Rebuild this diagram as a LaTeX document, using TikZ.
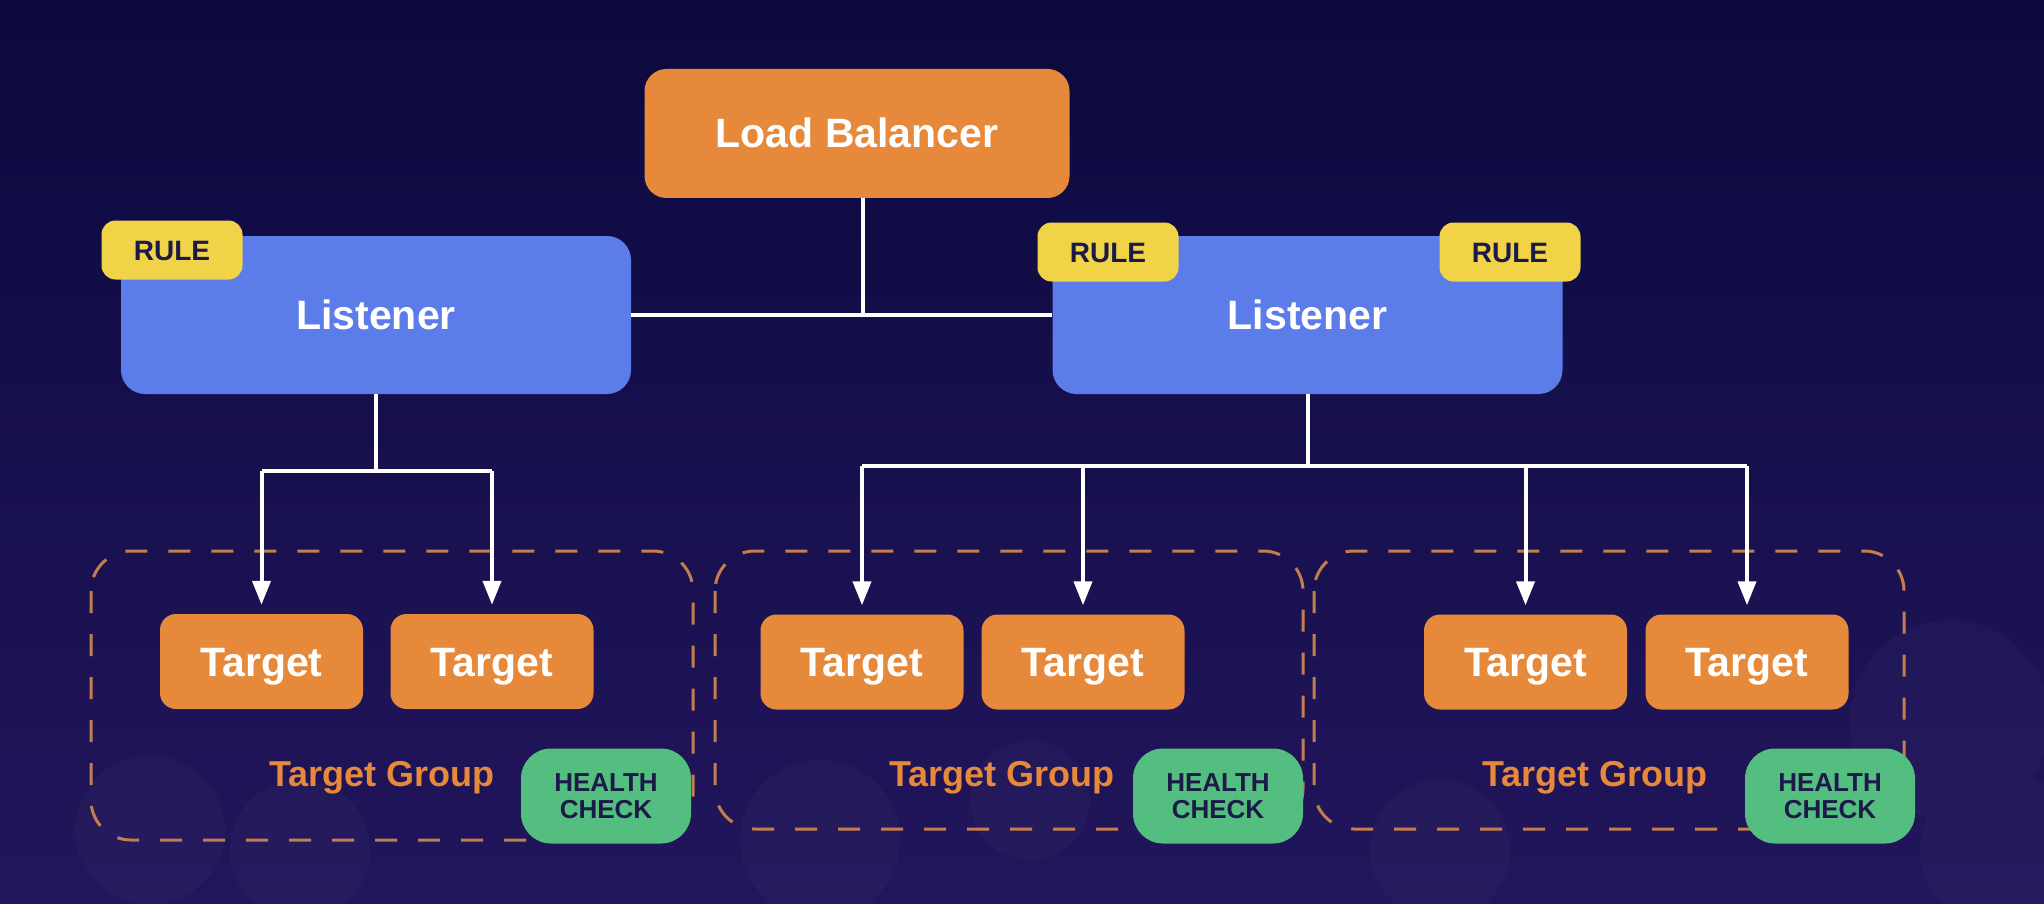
\documentclass[tikz,border=0pt]{standalone}
\usepackage{fontspec}
\setmainfont{Liberation Sans}
\usetikzlibrary{arrows.meta,positioning}
\definecolor{bgtop}{RGB}{11,9,62}
\definecolor{bgbot}{RGB}{34,22,92}
\definecolor{lborange}{RGB}{231,137,58}
\definecolor{lsblue}{RGB}{92,124,234}
\definecolor{ruleyellow}{RGB}{240,211,70}
\definecolor{hcgreen}{RGB}{84,190,128}
\definecolor{inkdark}{RGB}{28,26,72}
\definecolor{dashorange}{RGB}{196,126,78}
\begin{document}
\begin{tikzpicture}[x=1pt, y=-1pt,
	every node/.style={rectangle, align=center, font=\fontsize{41}{46}\selectfont\bfseries, text=white, text height=29pt, text depth=0pt},
	lbbox/.style={fill=lborange, minimum width=425pt, minimum height=129pt, rounded corners=22pt},
	listener/.style={fill=lsblue, minimum width=510pt, minimum height=158pt, rounded corners=24pt},
	rulebox/.style={fill=ruleyellow, minimum width=141pt, minimum height=59pt, rounded corners=14pt, text=inkdark, text height=20pt, font=\fontsize{28}{30}\selectfont\bfseries},
	target/.style={fill=lborange, minimum width=203pt, minimum height=95pt, rounded corners=16pt},
	health/.style={fill=hcgreen, minimum width=170pt, minimum height=95pt, rounded corners=30pt, text=inkdark, text height=, text depth=, font=\fontsize{26}{27}\selectfont\bfseries},
	grouplabel/.style={text=lborange, anchor=base, inner sep=0pt, text height=, text depth=, font=\fontsize{36}{40}\selectfont\bfseries},
	group/.style={draw=dashorange, line width=3pt, dash pattern=on 22pt off 21pt, rounded corners=40pt},
	link/.style={draw=white, line width=4pt},
	arrow/.style={link, -{Triangle[width=18pt,length=24pt]}, shorten >=9pt}]
	\useasboundingbox (0,0) rectangle (2044,904);
	% background
	\shade[top color=bgtop, bottom color=bgbot] (0,0) rectangle (2044,904);
	\fill[white, opacity=0.022] (150,830) circle (75) (300,850) circle (70) (820,840) circle (80) (1030,800) circle (60) (1440,850) circle (70) (1950,720) circle (100) (2000,850) circle (80);
	
	% target groups
	\draw[group] (91,551) rectangle (693,840);
	\draw[group] (715,551) rectangle (1303,829);
	\draw[group] (1314,551) rectangle (1904,829);
	
	\node[lbbox] (lb) at (857,133.5) {Load Balancer};
	\node[listener] (ll) at (376,315) {Listener};
	\node[listener] (rl) at (1307.5,315) {Listener};
	\node[rulebox] (llrule) at (172,250) {RULE};
	\node[rulebox] (rlrule1) at (1108,252) {RULE};
	\node[rulebox] (rlrule2) at (1510,252) {RULE};
	
	\node[target] (t1) at (261.5,661.5) {Target};
	\node[target] (t2) at (492,661.5) {Target};
	\node[target] (t3) at (862,662) {Target};
	\node[target] (t4) at (1083,662) {Target};
	\node[target] (t5) at (1525.5,662) {Target};
	\node[target] (t6) at (1747,662) {Target};
	
	\node[grouplabel] (g1) at (382,786) {Target Group};
	\node[grouplabel] (g2) at (1002,786) {Target Group};
	\node[grouplabel] (g3) at (1595,786) {Target Group};
	\node[health] (h1) at (606,796) {HEALTH\\CHECK};
	\node[health] (h2) at (1218,796) {HEALTH\\CHECK};
	\node[health] (h3) at (1830,796) {HEALTH\\CHECK};
	
	% connectors
	\coordinate (lbar) at (0,471);
	\coordinate (rbar) at (0,466);
	\draw[link] (ll.east) -- (rl.west);
	\draw[link] ([xshift=6pt]lb.south) -- ([xshift=6pt]lb.south |- ll.east);
	\draw[link] (ll.south) -- (ll.south |- lbar);
	\draw[link] (t1 |- lbar) -- (t2 |- lbar);
	\draw[arrow] (t1 |- lbar) -- (t1.north);
	\draw[arrow] (t2 |- lbar) -- (t2.north);
	\draw[link] (rl.south) -- (rl.south |- rbar);
	\draw[link] (t3 |- rbar) -- (t6 |- rbar);
	\draw[arrow] (t3 |- rbar) -- (t3.north);
	\draw[arrow] (t4 |- rbar) -- (t4.north);
	\draw[arrow] (t5 |- rbar) -- (t5.north);
	\draw[arrow] (t6 |- rbar) -- (t6.north);
\end{tikzpicture}
\end{document}
